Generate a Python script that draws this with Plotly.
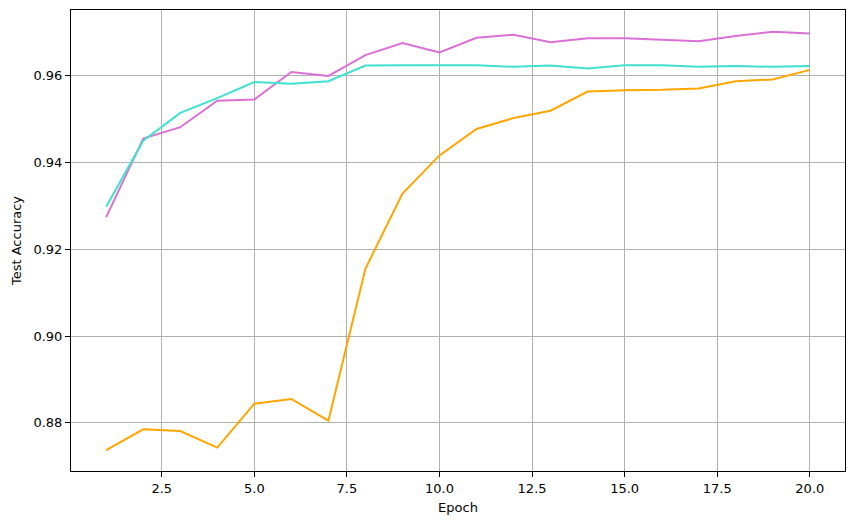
import plotly.graph_objects as go

epochs = list(range(1, 21))
acc_orchid = [0.9274, 0.9455, 0.9481, 0.9542, 0.9545, 0.9608, 0.9599, 0.9647, 0.9675, 0.9653,
              0.9687, 0.9694, 0.9677, 0.9686, 0.9686, 0.9683, 0.9679, 0.9691, 0.9701, 0.9697]
acc_turquoise = [0.9298, 0.9450, 0.9514, 0.9548, 0.9585, 0.9581, 0.9587, 0.9623, 0.9624, 0.9624,
                 0.9624, 0.9620, 0.9623, 0.9616, 0.9624, 0.9624, 0.9620, 0.9622, 0.9620, 0.9622]
acc_orange = [0.8737, 0.8785, 0.8781, 0.8743, 0.8844, 0.8855, 0.8805, 0.9155, 0.9328, 0.9416,
              0.9477, 0.9502, 0.9519, 0.9563, 0.9566, 0.9567, 0.9570, 0.9587, 0.9591, 0.9613]

x_ticks = [2.5, 5.0, 7.5, 10.0, 12.5, 15.0, 17.5, 20.0]
x_tick_labels = ["2.5", "5.0", "7.5", "10.0", "12.5", "15.0", "17.5", "20.0"]
y_ticks = [0.88, 0.90, 0.92, 0.94, 0.96]
y_tick_labels = ["0.88", "0.90", "0.92", "0.94", "0.96"]

fig = go.Figure()
for ys, col in [(acc_orchid, "orchid"), (acc_turquoise, "turquoise"), (acc_orange, "orange")]:
    fig.add_trace(go.Scatter(x=epochs, y=ys, mode="lines",
                             line=dict(color=col, width=2), showlegend=False))

font = dict(family="DejaVu Sans", size=13, color="black")
axis_common = dict(showline=True, linecolor="black", linewidth=1, mirror=True,
                   showgrid=True, gridcolor="#b0b0b0", gridwidth=1,
                   ticks="outside", ticklen=5, tickwidth=1, tickcolor="black",
                   zeroline=False, tickfont=font, automargin=False)

# page body has an 8px margin, so the figure is sized to fit inside it
fig.update_layout(
    width=839, height=509,
    margin=dict(l=63, r=2, t=2, b=46, autoexpand=False),
    paper_bgcolor="white", plot_bgcolor="white",
    font=font,
    xaxis=dict(range=[0.05, 20.95], tickvals=x_ticks, ticktext=x_tick_labels,
               title=dict(text="Epoch", font=font, standoff=8), **axis_common),
    yaxis=dict(range=[0.8689, 0.9751], tickvals=y_ticks, ticktext=y_tick_labels,
               title=dict(text="Test Accuracy", font=font, standoff=8), **axis_common),
)

fig.write_html("out.html")
